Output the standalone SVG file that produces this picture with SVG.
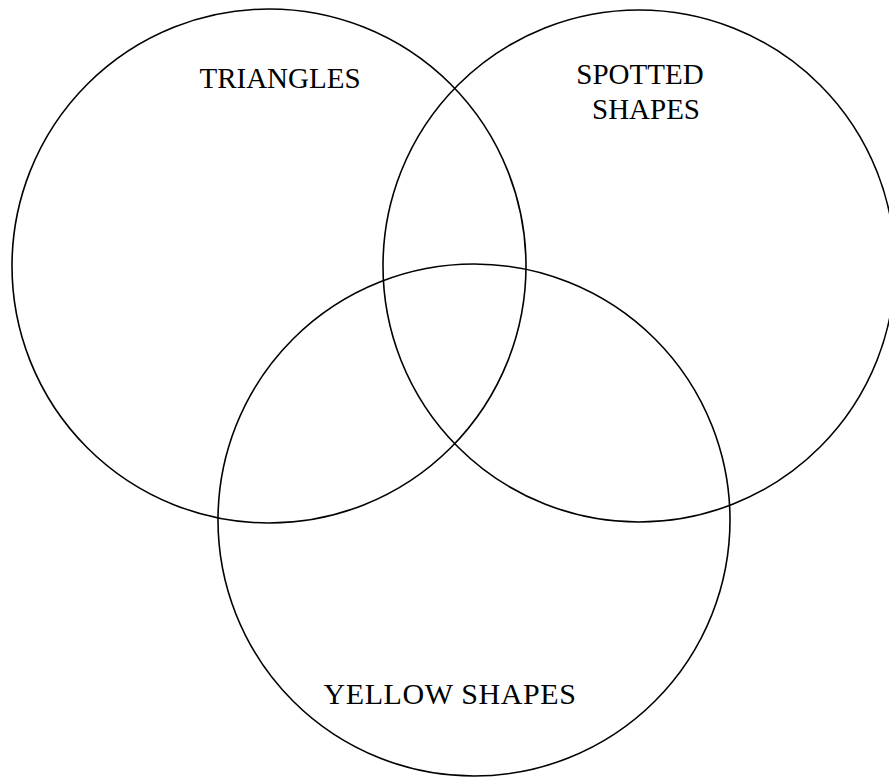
<svg xmlns="http://www.w3.org/2000/svg" width="889" height="778" viewBox="0 0 889 778">
<style>
.c{fill:none;stroke:#000;stroke-width:1.6}
.t{font-family:"Liberation Serif","Times New Roman",serif;font-size:29px;fill:#000;text-anchor:middle}
</style>
<rect width="889" height="778" fill="#fff"/>
<g id="triangles"><circle class="c" cx="269" cy="266" r="257"/><text class="t" x="280" y="88">TRIANGLES</text></g>
<g id="spotted"><circle class="c" cx="639" cy="266" r="256"/><text class="t" x="640" y="84">SPOTTED</text><text class="t" x="646" y="119">SHAPES</text></g>
<g id="yellow"><circle class="c" cx="474" cy="520" r="256"/><text class="t" x="450" y="704" style="font-size:30px;letter-spacing:0.6px">YELLOW SHAPES</text></g>
<g id="connectors"></g>
</svg>
